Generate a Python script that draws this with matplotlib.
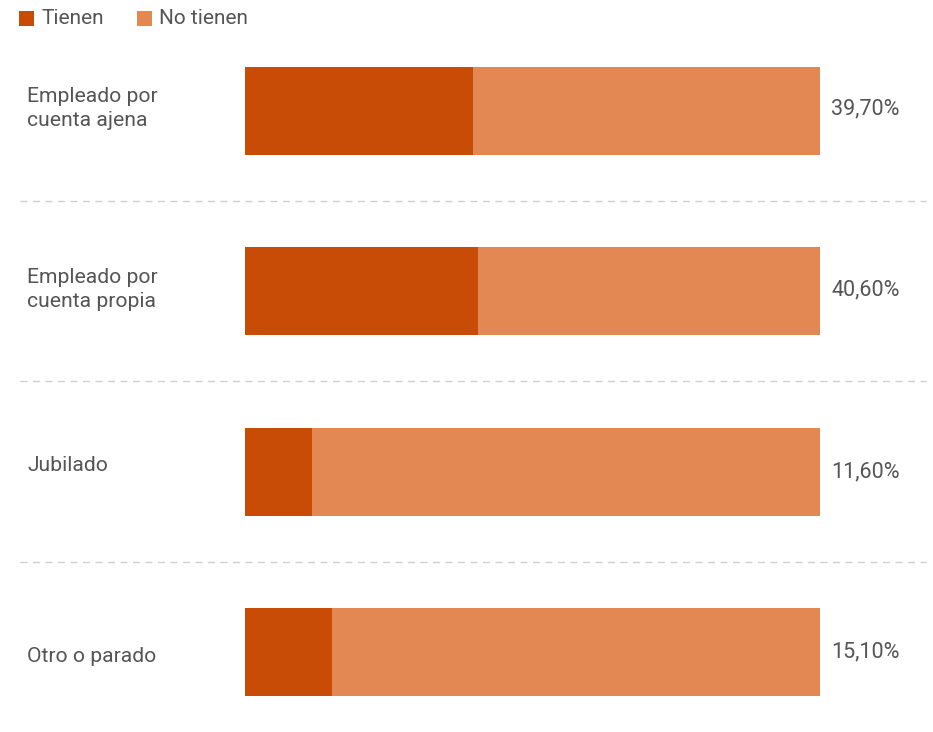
import matplotlib
matplotlib.use("Agg")
import matplotlib.pyplot as plt
from matplotlib.transforms import blended_transform_factory
from matplotlib.patches import Rectangle

categories = ["Empleado por\ncuenta ajena", "Empleado por\ncuenta propia", "Jubilado", "Otro o parado"]
tienen = [39.7, 40.6, 11.6, 15.1]
value_labels = ["39,70%", "40,60%", "11,60%", "15,10%"]
series_names = ["Tienen", "No tienen"]

DARK = "#C84C06"
LIGHT = "#E38853"
TEXT = "#555555"
W, H = 933, 732

plt.rcParams["font.family"] = ["Roboto", "DejaVu Sans"]
fig = plt.figure(figsize=(W / 100, H / 100), dpi=100)

first_c, spacing = 111, 180.33
top = -first_c / spacing
bottom = (H - first_c) / spacing
ax = fig.add_axes([245 / W, 0, 575 / W, 1])
ax.set_xlim(0, 100)
ax.set_ylim(bottom, top)
ax.axis("off")

idx = list(range(len(categories)))
no = [100 - v for v in tienen]
ax.barh(idx, tienen, height=88 / spacing, color=DARK, linewidth=0)
ax.barh(idx, no, left=tienen, height=88 / spacing, color=LIGHT, linewidth=0)

trans = blended_transform_factory(fig.transFigure, ax.transData)
px = 1 / spacing
label_off = [-2.5, -2, -6, 5]
value_off = [-2.5, -1, 0, 0]
for i, (c, v) in enumerate(zip(categories, value_labels)):
    ax.text(27 / W, i + label_off[i] * px, c, transform=trans, ha="left", va="center",
            fontsize=15.2, color=TEXT, linespacing=1.3)
    ax.text(831 / W, i + value_off[i] * px, v, transform=trans, ha="left", va="center",
            fontsize=15.5, color=TEXT)

for i in range(len(categories) - 1):
    ax.plot([20 / W, 926 / W], [i + 0.5, i + 0.5], transform=trans, clip_on=False,
            color="#d0d0d0", lw=1, ls=(0, (5, 4)))

# legend
for x0, col, name, tx in [(19, DARK, series_names[0], 41), (137, LIGHT, series_names[1], 159)]:
    fig.patches.append(Rectangle((x0 / W, 1 - 26 / H), 15 / W, 15 / H, transform=fig.transFigure,
                                 color=col, linewidth=0))
    fig.text(tx / W, 1 - 18.5 / H, name, ha="left", va="center", fontsize=15, color=TEXT)

fig.savefig("out.png", dpi=100, facecolor="white")
